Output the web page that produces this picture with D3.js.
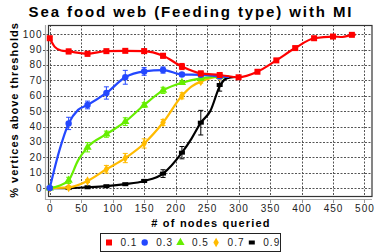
<!DOCTYPE html>
<html>
<head>
<meta charset="utf-8">
<script src="https://cdn.jsdelivr.net/npm/d3@7"></script>
<style>
  body { margin: 0; background: #fff; }
  svg text { font-family: "Liberation Sans", Arial, sans-serif; }
</style>
</head>
<body>
<svg id="chart" width="382" height="252"></svg>
<script>
// --- data ---
const xTicks = [0, 50, 100, 150, 200, 250, 300, 350, 400, 450, 500];
const yTicks = [0, 10, 20, 30, 40, 50, 60, 70, 80, 90, 100];

const thresholds = ['0.1', '0.3', '0.5', '0.7', '0.9'];
const colors = ['#ff0000', '#2448ff', '#66ee00', '#ffbb00', '#000000'];

// curve points [nodes queried, % vertices]
const red = [[0, 97.4], [8, 91.8], [18, 89.4], [30, 88.8], [60, 87.3], [90, 89], [120, 89.2], [150, 89], [180, 86], [210, 79], [240, 74.5], [270, 73.5], [300, 72], [330, 75.6], [360, 83], [390, 91], [420, 97.4], [450, 98.5], [465, 98.2], [480, 99.6], [486, 99.8]];
const blue = [[0, 0], [15, 24], [30, 42], [45, 50.8], [60, 54], [90, 61.8], [120, 72], [150, 75.8], [180, 76.7], [210, 73.8], [240, 73.6], [270, 72.6], [285, 72.2]];
const green = [[0, 0], [15, 1.5], [30, 5], [45, 18], [60, 26.5], [90, 35], [120, 43.2], [150, 54], [180, 63.5], [210, 68.5], [240, 71.3], [270, 72.5], [285, 72.4]];
const orange = [[0, 0], [30, 0.4], [60, 4.6], [90, 12.2], [120, 19.5], [150, 29], [180, 42.6], [210, 60], [225, 66], [240, 69.2], [270, 72.4], [285, 72.4]];
const black = [[0, 0], [30, 0], [60, 0.5], [90, 1.2], [120, 2.5], [150, 4.6], [180, 9.4], [210, 23], [225, 32], [240, 42.5], [255, 50], [271, 67], [282, 71.5], [295, 72.2]];

// markers with error half-widths [x, y, err]
const redMarks = [[0, 97.4, 1], [30, 88.8, 1.5], [60, 87.3, 1.5], [90, 89, 1], [120, 89.2, 1], [150, 89, 1.5], [180, 86, 1.5], [210, 79, 2], [240, 74.5, 1.5], [270, 73.5, 1], [300, 72, 1], [330, 75.6, 1], [360, 83, 1], [390, 91, 1], [420, 97.4, 1], [450, 98.5, 1], [480, 99.6, 1]];
const blueMarks = [[0, 0, 0], [30, 42, 4], [60, 54, 2.5], [90, 61.8, 4], [120, 72, 4.5], [150, 75.8, 2.5], [180, 76.7, 2], [210, 73.8, 1], [240, 73.6, 1], [270, 72.6, 1]];
const greenMarks = [[0, 0, 0], [30, 5, 2], [60, 26.5, 3], [90, 35, 2], [120, 43.2, 2.5], [150, 54, 1.5], [180, 63.5, 2], [210, 68.5, 1], [240, 71.3, 1], [270, 72.5, 1]];
const orangeMarks = [[0, 0, 0], [30, 0.4, 1], [60, 4.6, 1], [90, 12.2, 2.5], [120, 19.5, 3], [150, 29, 3], [180, 42.6, 2], [210, 60, 2], [240, 69.2, 1], [270, 72.4, 1]];
const blackMarks = [[0, 0, 0], [30, 0, 0.3], [60, 0.5, 0.3], [90, 1.2, 0.5], [120, 2.5, 0.5], [150, 4.6, 1], [180, 9.4, 2.5], [210, 23, 4], [240, 42.5, 8], [270, 67, 4]];

const series = [
  { name: thresholds[0], color: colors[0], line: red, marks: redMarks, shape: 'square' },
  { name: thresholds[1], color: colors[1], line: blue, marks: blueMarks, shape: 'circle' },
  { name: thresholds[2], color: colors[2], line: green, marks: greenMarks, shape: 'triangle' },
  { name: thresholds[3], color: colors[3], line: orange, marks: orangeMarks, shape: 'diamond' },
  { name: thresholds[4], color: colors[4], line: black, marks: blackMarks, shape: 'dash' }
];

const svg = d3.select('#chart');

const plotL = 48.5, plotR = 372, plotT = 25, plotB = 196.5;
const x = d3.scaleLinear().domain([-2, 512]).range([plotL, plotR]);
const y = d3.scaleLinear().domain([-5.5, 106]).range([plotB, plotT]);

// title
svg.append('text')
  .attr('x', 191).attr('y', 17)
  .attr('text-anchor', 'middle')
  .style('font-size', '15px').style('font-weight', 'bold')
  .style('letter-spacing', '1.9px')
  .text('Sea food web (Feeding type) with MI');

// grid
const grid = svg.append('g').attr('stroke', '#555').attr('stroke-width', 1).attr('stroke-dasharray', '2,1.5');
grid.selectAll('.gx').data(xTicks).join('line')
  .attr('x1', d => Math.round(x(d)) + 0.5).attr('x2', d => Math.round(x(d)) + 0.5)
  .attr('y1', plotT).attr('y2', plotB);
grid.selectAll('.gy').data(yTicks).join('line')
  .attr('y1', d => Math.round(y(d)) + 0.5).attr('y2', d => Math.round(y(d)) + 0.5)
  .attr('x1', 43).attr('x2', plotR);

// offset axis lines (gray)
svg.append('line').attr('x1', 45.5).attr('x2', 45.5).attr('y1', plotT).attr('y2', 200)
  .attr('stroke', '#aaa').attr('stroke-width', 1.2);
svg.append('line').attr('x1', 45.5).attr('x2', plotR).attr('y1', 199.5).attr('y2', 199.5)
  .attr('stroke', '#aaa').attr('stroke-width', 1.2);
svg.selectAll('.xt').data(xTicks).join('line')
  .attr('x1', d => Math.round(x(d)) + 0.5).attr('x2', d => Math.round(x(d)) + 0.5)
  .attr('y1', 199.5).attr('y2', 203).attr('stroke', '#999');

// frame
svg.append('rect').attr('x', plotL).attr('y', plotT + 0.5)
  .attr('width', plotR - plotL).attr('height', plotB - plotT - 0.5)
  .attr('fill', 'none').attr('stroke', '#333').attr('stroke-width', 1.2);

// tick labels
svg.selectAll('.xl').data(xTicks).join('text')
  .attr('x', d => x(d) + 0.5).attr('y', 211.5)
  .attr('text-anchor', 'middle')
  .style('font-size', '10px').style('letter-spacing', '1px').attr('fill', '#222')
  .text(d => d);
svg.selectAll('.yl').data(yTicks).join('text')
  .attr('x', 42.5).attr('y', d => y(d) + 3.5)
  .attr('text-anchor', 'end')
  .style('font-size', '10px').style('letter-spacing', '1px').attr('fill', '#222')
  .text(d => d);

// axis titles
svg.append('text')
  .attr('x', 211).attr('y', 227)
  .attr('text-anchor', 'middle')
  .style('font-size', '11px').style('font-weight', 'bold').style('letter-spacing', '1.2px')
  .text('# of nodes queried');
svg.append('text')
  .attr('transform', 'translate(18,110) rotate(-90)')
  .attr('text-anchor', 'middle')
  .style('font-size', '11px').style('font-weight', 'bold').style('letter-spacing', '1px')
  .text('% vertices above thresholds');

function drawMarker(g, shape, color, cx, cy) {
  if (shape === 'square') {
    g.append('rect').attr('x', cx - 3).attr('y', cy - 3).attr('width', 6).attr('height', 6).attr('fill', color);
  } else if (shape === 'circle') {
    g.append('circle').attr('cx', cx).attr('cy', cy).attr('r', 3.2).attr('fill', color);
  } else if (shape === 'triangle') {
    g.append('path').attr('d', d3.symbol(d3.symbolTriangle, 30)()).attr('transform', `translate(${cx},${cy})`).attr('fill', color);
  } else if (shape === 'diamond') {
    g.append('path').attr('d', d3.symbol(d3.symbolDiamond, 26)()).attr('transform', `translate(${cx},${cy})`).attr('fill', color);
  } else {
    g.append('rect').attr('x', cx - 3).attr('y', cy - 2).attr('width', 6).attr('height', 4).attr('fill', color);
  }
}

const line = d3.line().x(d => x(d[0])).y(d => y(d[1])).curve(d3.curveMonotoneX);

// draw black first so red sits on top, like the reference
const plot = svg.append('g');
series.slice().reverse().forEach(s => {
  const g = plot.append('g');
  g.append('path').datum(s.line).attr('d', line)
    .attr('fill', 'none').attr('stroke', s.color).attr('stroke-width', 2.2);
  s.marks.forEach(m => {
    const cx = x(m[0]);
    if (m[2] > 0.6) {
      g.append('line').attr('x1', cx).attr('x2', cx).attr('y1', y(m[1] - m[2])).attr('y2', y(m[1] + m[2]))
        .attr('stroke', s.color).attr('stroke-width', 1);
      [m[1] - m[2], m[1] + m[2]].forEach(v => {
        g.append('line').attr('x1', cx - 2.5).attr('x2', cx + 2.5).attr('y1', y(v)).attr('y2', y(v))
          .attr('stroke', s.color).attr('stroke-width', 1);
      });
    }
    drawMarker(g, s.shape, s.color, cx, y(m[1]));
  });
});

// legend
const legend = svg.append('g');
legend.append('rect').attr('x', 100.5).attr('y', 233.5).attr('width', 180).attr('height', 18)
  .attr('fill', '#fff').attr('stroke', '#222').attr('stroke-width', 1);
series.forEach((s, i) => {
  const lx = 109 + i * 35.7;
  drawMarker(legend, s.shape, s.color, lx, 242.5);
  legend.append('text').attr('x', lx + 11.5).attr('y', 246)
    .style('font-size', '10px').style('letter-spacing', '1px').attr('fill', '#222')
    .text(s.name);
});
</script>
</body>
</html>
